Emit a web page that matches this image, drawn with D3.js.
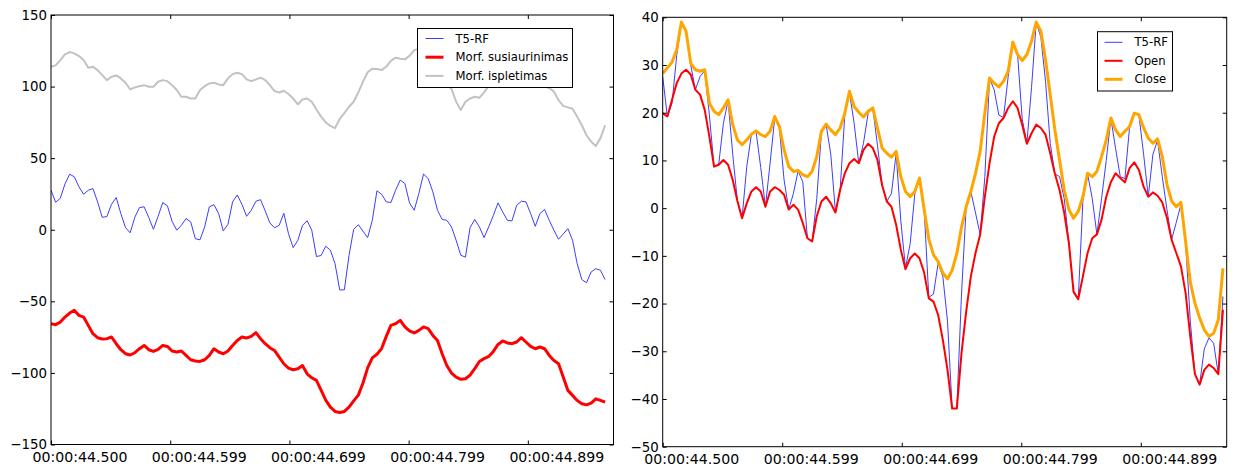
<!DOCTYPE html>
<html>
<head>
<meta charset="utf-8">
<script src="https://cdn.jsdelivr.net/npm/d3@7"></script>
<style>
  html, body { margin: 0; padding: 0; background: #fff; }
  svg { display: block; font-family: "DejaVu Sans", sans-serif; }
</style>
</head>
<body>
<svg id="chart" width="1235" height="471"></svg>
<script>
// ---------------- data ----------------
const sampleRate = 256;          // samples per second
const startTime = 44.5;          // seconds
const xTicks = [44.5, 44.6, 44.7, 44.8, 44.9];
const xTickLabels = ["00:00:44.500", "00:00:44.599", "00:00:44.699", "00:00:44.799", "00:00:44.899"];

const t5rf = [27.6, 19.2, 22, 32, 38.8, 37, 30, 24.8, 27.6, 28.8,
  19.5, 8.7, 9.2, 17.8, 22.5, 11.3, 1.5, -2.1, 8.7, 15.5,
  16, 8.5, 0.3, 9.4, 19, 16.7, 5.9, -0.3, 3.1, 7.8,
  5.5, -6.3, -7, 2, 16, 17.5, 11.3, -0.8, 3.8, 19.5,
  24.3, 17.8, 9.4, 13.6, 19.9, 21, 13.2, 4.8, 1.4, 3.1,
  11.5, -2.7, -12.5, -7.5, 3, 6.3, -0.3, -18.7, -18, -11.5,
  -14.3, -23.7, -42, -42, -18, 0.3, 3.5, -1, -5.5, 6.6,
  27.2, 24.8, 19.5, 19, 27.6, 34.7, 32.3, 18.7, 13.6, 25.3,
  38.9, 35.8, 26.5, 13.6, 7.2, 6.6, 2, -7.3, -17.8, -19.1,
  1.5, 7.2, 2, -5.5, 2, 10, 18.8, 12.5, 6.6, 6.2,
  17, 19.9, 19.5, 11.3, 2.4, 11.3, 14.2, 6.6, -0.3, -6.6,
  -3, 0.8, -7.3, -23.7, -34.8, -37, -29.5, -27.2, -28.3, -34.8,
  -18.5];

const erosion = [-65.6, -66.3, -64.5, -61, -58.2, -56.3, -59.8, -61, -66.8, -72.6,
  -75.4, -76.3, -76.1, -74.9, -79.6, -83.8, -86.6, -87.5, -85.9, -83.1,
  -80.8, -83.8, -85, -83.6, -80.8, -81.5, -84.7, -85.4, -84.7, -87.8,
  -90.8, -91.7, -92, -90.8, -87.8, -83.1, -85.4, -86.6, -84.7, -80.8,
  -77.3, -74.9, -75.6, -74.5, -71.9, -76.1, -79.6, -82.4, -84.3, -88.9,
  -93.6, -96.6, -97.8, -97.1, -94.8, -100.6, -103.4, -105.2, -112, -119,
  -123.9, -126.9, -127.6, -126.9, -123.9, -119.5, -115.5, -107, -96.5, -89.5,
  -87, -83, -74.5, -66.8, -65.6, -63.3, -67.9, -70.7, -72.1, -70.3,
  -67.9, -69.1, -73.8, -77.3, -86.6, -94.8, -100.1, -103, -104.5, -104.1,
  -101.5, -97, -92, -90, -88.5, -85, -80.1, -77.7, -79.1, -79.6,
  -78.4, -75.4, -78.4, -81.5, -83.1, -81.9, -83.1, -87.8, -91.3, -93.6,
  -102.9, -112.2, -115.7, -119.2, -121.6, -122.3, -121.1, -118.1, -119.2, -120.4];

const dilation = [113.9, 114.8, 118.5, 122.5, 124.1, 123.2, 121.3, 118.5, 113.2, 113.9,
  111.5, 108, 104.5, 106.9, 107.8, 105.7, 102.7, 98, 99.4, 100.3,
  101, 99.9, 99.9, 103.4, 104.5, 103.8, 101, 97.6, 92.9, 92.9,
  91.7, 91.7, 97.6, 100.3, 102.2, 102.7, 101.5, 101, 105.7, 108.7,
  109.7, 108.7, 105, 103.8, 105, 106.2, 104.5, 101, 96.9, 95.9,
  97.1, 94.8, 91.7, 87.5, 91, 91.7, 89.4, 84, 79, 75,
  72.5, 71, 77.5, 81.5, 85.9, 89.4, 96, 103.5, 110, 112.5,
  112.3, 111.5, 114, 118, 120.2, 119.5, 119, 121.5, 125.5, 126,
  125, 122, 118, 112, 106, 101, 98.5, 89.5, 83.6, 89.4,
  91.7, 92.9, 92.2, 96, 100.5, 103, 104.5, 103, 101, 102.5,
  105, 106, 105, 102.5, 101, 100.5, 100, 99, 96.5, 90.5,
  86.5, 85.5, 84.5, 79, 73, 66, 61.5, 58.5, 64, 73];

const openV = [19.9, 19.2, 22.7, 26.2, 28.2, 29, 28, 24.8, 23.8, 20.6,
  15, 8.7, 9.1, 10.1, 9.1, 5.9, 1.5, -2.1, 1, 3.5,
  4.4, 3.5, 0.3, 3.5, 4.4, 3.8, 2.8, -0.3, 0.7, -0.3,
  -3.1, -6.3, -7, -1.7, 1.4, 2.4, 1, -0.9, 3.8, 7.3,
  9.4, 10.3, 9.4, 12.2, 13.5, 12.6, 10.1, 4.8, 1.4, 0.3,
  -3.5, -8.7, -12.8, -10.5, -9.5, -10.5, -13.5, -18.9, -19.6, -22.4,
  -27.6, -33.9, -42, -42, -30.4, -21.7, -14.3, -9.4, -5.5, 2.4,
  9.4, 15, 17.8, 18.9, 21, 22.4, 21, 17.5, 13.5, 15.7,
  17.5, 16.8, 15.4, 11.5, 7.2, 3.8, -1, -7.3, -17.5, -19.1,
  -14.3, -9.4, -6.3, -5.5, -2.4, 2.4, 5.5, 7.3, 6.3, 5.4,
  8.4, 9.6, 8, 4.5, 2.4, 3.3, 2.6, 1.2, -2, -6.6,
  -9.4, -12.2, -17.8, -26.9, -34.8, -37, -33.9, -32.8, -33.5, -34.8,
  -21.3];

const closeV = [28.2, 29.4, 30.6, 33.2, 39, 37.1, 30.4, 29, 28.7, 29,
  22, 20.3, 19.6, 21, 22.7, 17.5, 14.3, 13.3, 14.3, 15.5,
  16.2, 15.4, 15, 16.1, 19.2, 17.1, 12.2, 8.7, 7.7, 7.9,
  7, 6.6, 7.7, 10.8, 16.1, 17.6, 16.4, 15.4, 16.8, 19.9,
  24.5, 21.3, 20.1, 19.1, 20.3, 21, 16.8, 12.6, 11.5, 10.7,
  11.9, 6.6, 3.5, 2.4, 3.5, 6.3, -0.3, -6.5, -9.8, -11.2,
  -13.6, -14.8, -13, -9.5, -4, 0.3, 3.5, 7.3, 11.9, 20,
  27.3, 26.2, 25.4, 26.6, 28.7, 34.8, 32.2, 30.9, 32.2, 35,
  39, 37.1, 31.1, 23.8, 16.4, 10.1, 3.8, -0.3, -2.1, -0.7,
  2.4, 7.3, 6.6, 7.7, 10.8, 14.3, 18.9, 16.4, 15, 16.1,
  17.1, 19.9, 19.6, 16.8, 14.7, 13.6, 14.5, 10.8, 5, 1.5,
  0.3, 1.2, -7, -15.5, -19.9, -23, -25.5, -26.9, -26.2, -23.4,
  -12.6];

const leftYTicks = [-150, -100, -50, 0, 50, 100, 150];
const rightYTicks = [-50, -40, -30, -20, -10, 0, 10, 20, 30, 40];

// ---------------- drawing ----------------
const svg = d3.select("#chart");
svg.append("rect").attr("width", 1235).attr("height", 471).attr("fill", "#fff");

// pick font sizes so that text widths match the reference picture
function measure(str, size) {
  const t = svg.append("text").attr("font-size", size).attr("font-family", "DejaVu Sans").text(str);
  const w = t.node().getComputedTextLength();
  t.remove();
  return w;
}
const xTickFont = 13 * 95 / measure("00:00:44.500", 13);
const yTickFont = 13 * 25.5 / measure("150", 13);
const legendFont = 13 * 113 / measure("Morf. susiaurinimas", 13);

const xEnd = startTime + 120.8 / sampleRate;
const fmtNum = v => (v < 0 ? "\u2212" + Math.abs(v) : String(v));

function drawPanel(cfg) {
  const { left, top, right, bottom } = cfg.box;
  const x = d3.scaleLinear().domain([startTime, xEnd]).range([left, right]);
  const y = d3.scaleLinear().domain(cfg.yDomain).range([bottom, top]);
  const g = svg.append("g");
  const clipId = "clip" + cfg.id;
  svg.append("clipPath").attr("id", clipId)
    .append("rect").attr("x", left).attr("y", top)
    .attr("width", right - left).attr("height", bottom - top);

  const line = d3.line()
    .x((d, i) => x(startTime + i / sampleRate))
    .y(d => y(d));

  const plot = g.append("g").attr("clip-path", `url(#${clipId})`);
  cfg.series.forEach(s => {
    plot.append("path").datum(s.values)
      .attr("d", line)
      .attr("fill", "none")
      .attr("stroke", s.color)
      .attr("stroke-width", s.width)
      .attr("stroke-linejoin", "round")
      .attr("stroke-linecap", "butt");
  });

  // frame
  g.append("rect")
    .attr("x", left).attr("y", top)
    .attr("width", right - left).attr("height", bottom - top)
    .attr("fill", "none").attr("stroke", "#000").attr("stroke-width", 1);

  // inward ticks on all four sides
  const tickLen = 4;
  const axB = d3.axisBottom(x).tickValues(xTicks).tickSize(-tickLen).tickFormat("");
  const axT = d3.axisTop(x).tickValues(xTicks).tickSize(-tickLen).tickFormat("");
  const axL = d3.axisLeft(y).tickValues(cfg.yTicks).tickSize(-tickLen).tickFormat("");
  const axR = d3.axisRight(y).tickValues(cfg.yTicks).tickSize(-tickLen).tickFormat("");
  [[axB, `translate(0,${bottom})`], [axT, `translate(0,${top})`],
   [axL, `translate(${left},0)`], [axR, `translate(${right},0)`]].forEach(([ax, tr]) => {
    const a = g.append("g").attr("transform", tr).call(ax);
    a.select(".domain").remove();
    a.selectAll("line").attr("stroke", "#000").attr("stroke-width", 1);
  });

  // y tick labels
  g.selectAll(null).data(cfg.yTicks).enter().append("text")
    .attr("x", left - 4)
    .attr("y", d => y(d))
    .attr("dy", "0.36em")
    .attr("text-anchor", "end")
    .attr("font-family", "DejaVu Sans")
    .attr("font-size", yTickFont)
    .attr("fill", "#000")
    .text(fmtNum);

  // x tick labels
  g.selectAll(null).data(xTicks).enter().append("text")
    .attr("x", d => x(d) + 29)
    .attr("y", bottom + 17)
    .attr("text-anchor", "middle")
    .attr("font-family", "DejaVu Sans")
    .attr("font-size", xTickFont)
    .attr("fill", "#000")
    .text((d, i) => xTickLabels[i]);

  // legend
  const L = cfg.legend;
  const lg = g.append("g");
  lg.append("rect")
    .attr("x", L.x).attr("y", L.y).attr("width", L.w).attr("height", L.h)
    .attr("fill", "#fff").attr("stroke", "#000").attr("stroke-width", 1);
  cfg.series.forEach((s, i) => {
    const cy = L.y + L.rowStart + i * L.rowGap;
    lg.append("line")
      .attr("x1", L.x + L.lineX0).attr("x2", L.x + L.lineX1)
      .attr("y1", cy).attr("y2", cy)
      .attr("stroke", s.color).attr("stroke-width", s.width);
    lg.append("text")
      .attr("x", L.x + L.textX).attr("y", cy).attr("dy", "0.36em")
      .attr("font-family", "DejaVu Sans")
      .attr("font-size", legendFont).attr("fill", "#000")
      .text(s.name);
  });
}

drawPanel({
  id: "L",
  box: { left: 51, top: 15, right: 613.5, bottom: 444.5 },
  yDomain: [-150, 150],
  yTicks: leftYTicks,
  series: [
    { name: "T5-RF", values: t5rf.slice(0, erosion.length), color: "#3d3dff", width: 1 },
    { name: "Morf. susiaurinimas", values: erosion, color: "#ff0000", width: 3 },
    { name: "Morf. ispletimas", values: dilation, color: "#c2c2c2", width: 2 }
  ],
  legend: { x: 417.5, y: 28.5, w: 155, h: 59, rowStart: 10, rowGap: 18.7, lineX0: 8, lineX1: 26, textX: 38 }
});

drawPanel({
  id: "R",
  box: { left: 662.7, top: 17.3, right: 1226.7, bottom: 446.7 },
  yDomain: [-50, 40],
  yTicks: rightYTicks,
  series: [
    { name: "T5-RF", values: t5rf, color: "#3d3dff", width: 1 },
    { name: "Open", values: openV, color: "#ff0000", width: 2 },
    { name: "Close", values: closeV, color: "#ffa500", width: 3 }
  ],
  legend: { x: 1097.5, y: 31.7, w: 75, h: 59.3, rowStart: 10.6, rowGap: 18.5, lineX0: 7, lineX1: 25, textX: 37 }
});
</script>
</body>
</html>
